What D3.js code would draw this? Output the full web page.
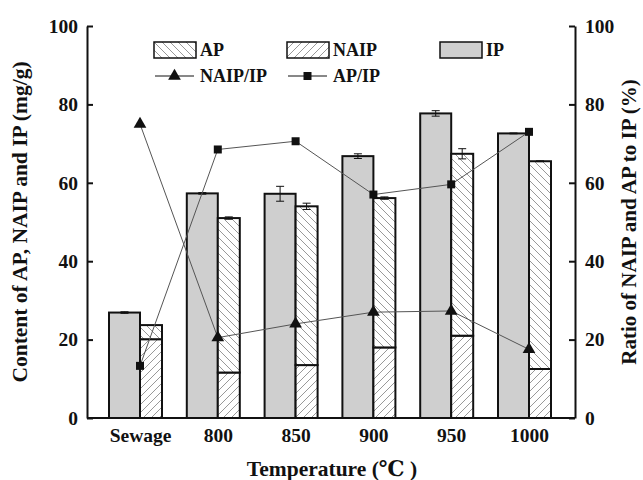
<!DOCTYPE html>
<html>
<head>
<meta charset="utf-8">
<script src="https://cdn.jsdelivr.net/npm/d3@7"></script>
<style>
  body { margin: 0; background: #fff; }
  svg text { font-family: 'Liberation Serif', 'Times New Roman', 'DejaVu Serif', serif; font-weight: bold; }
</style>
</head>
<body>
<div id="chart"></div>
<script>
const categories = ['Sewage', '800', '850', '900', '950', '1000']
const ipValues = [26.9, 57.3, 57.2, 66.8, 77.7, 72.6]
const ipErr = [0.2, 0.2, 1.9, 0.6, 0.7, 0.1]
const naipValues = [20.1, 11.6, 13.5, 18.0, 21.0, 12.5]
const totalValues = [23.7, 51.0, 54.0, 56.1, 67.4, 65.5] // NAIP + AP
const totalErr = [0, 0.3, 0.8, 0.3, 1.3, 0.1]
const naipRatio = [75.0, 20.5, 24.0, 27.0, 27.3, 17.5]
const apRatio = [13.3, 68.5, 70.6, 57.0, 59.6, 73.0]
const yTicks = [0, 20, 40, 60, 80, 100]

const width = 643, height = 480
const margin = { top: 26, right: 68, bottom: 62, left: 87 }
const innerW = width - margin.left - margin.right
const innerH = height - margin.top - margin.bottom

const svg = d3.select('#chart').append('svg')
  .attr('width', width)
  .attr('height', height)

// hatch patterns
const defs = svg.append('defs')
function hatch(id, dir) {
  const p = defs.append('pattern')
    .attr('id', id)
    .attr('patternUnits', 'userSpaceOnUse')
    .attr('width', 8).attr('height', 8)
  p.append('rect').attr('width', 8).attr('height', 8).attr('fill', '#fff')
  const d = dir > 0 ? 'M0,8 L8,0 M-2,2 L2,-2 M6,10 L10,6' : 'M0,0 L8,8 M-2,6 L2,10 M6,-2 L10,2'
  p.append('path').attr('d', d).attr('stroke', '#999').attr('stroke-width', 1)
}
hatch('hatchNaip', 1)
hatch('hatchAp', -1)

const x = d3.scalePoint()
  .domain(categories)
  .range([53, innerW - 46])

const y = d3.scaleLinear().domain([0, 100]).range([innerH, 0])
const y2 = d3.scaleLinear().domain([0, 100]).range([innerH, 0])

const ipW = 31, hW = 22

const g = svg.append('g').attr('transform', `translate(${margin.left},${margin.top})`)

// IP bars
g.selectAll('.ip').data(categories).enter().append('rect')
  .attr('x', d => x(d) - ipW)
  .attr('y', (d, i) => y(ipValues[i]))
  .attr('width', ipW)
  .attr('height', (d, i) => innerH - y(ipValues[i]))
  .attr('fill', '#cfcfcf')
  .attr('stroke', '#111')
  .attr('stroke-width', 2)

// NAIP (lower) part
g.selectAll('.naip').data(categories).enter().append('rect')
  .attr('x', d => x(d))
  .attr('y', (d, i) => y(naipValues[i]))
  .attr('width', hW)
  .attr('height', (d, i) => innerH - y(naipValues[i]))
  .attr('fill', 'url(#hatchNaip)')
  .attr('stroke', '#111')
  .attr('stroke-width', 2)

// AP (upper) part
g.selectAll('.ap').data(categories).enter().append('rect')
  .attr('x', d => x(d))
  .attr('y', (d, i) => y(totalValues[i]))
  .attr('width', hW)
  .attr('height', (d, i) => y(naipValues[i]) - y(totalValues[i]))
  .attr('fill', 'url(#hatchAp)')
  .attr('stroke', '#111')
  .attr('stroke-width', 2)

// error bars
function errBars(cx, vals, errs) {
  categories.forEach((c, i) => {
    if (!errs[i]) return
    const xc = cx(c)
    const t = y(vals[i] + errs[i]), b = y(vals[i] - errs[i])
    const eg = g.append('g').attr('stroke', '#111').attr('stroke-width', 1)
    eg.append('line').attr('x1', xc).attr('x2', xc).attr('y1', t).attr('y2', b)
    eg.append('line').attr('x1', xc - 4).attr('x2', xc + 4).attr('y1', t).attr('y2', t)
    eg.append('line').attr('x1', xc - 4).attr('x2', xc + 4).attr('y1', b).attr('y2', b)
  })
}
errBars(d => x(d) - ipW / 2, ipValues, ipErr)
errBars(d => x(d) + hW / 2, totalValues, totalErr)

// ratio lines
const line = vals => d3.line()
  .x(d => x(d))
  .y((d, i) => y2(vals[i]))(categories)

g.append('path').attr('d', line(naipRatio))
  .attr('fill', 'none').attr('stroke', '#555').attr('stroke-width', 1)
g.append('path').attr('d', line(apRatio))
  .attr('fill', 'none').attr('stroke', '#555').attr('stroke-width', 1)

const tri = d3.symbol().type(d3.symbolTriangle).size(70)
const sq = d3.symbol().type(d3.symbolSquare).size(64)

g.selectAll('.tri').data(categories).enter().append('path')
  .attr('d', tri)
  .attr('transform', (d, i) => `translate(${x(d)},${y2(naipRatio[i])})`)
  .attr('fill', '#111')
g.selectAll('.sq').data(categories).enter().append('path')
  .attr('d', sq)
  .attr('transform', (d, i) => `translate(${x(d)},${y2(apRatio[i])})`)
  .attr('fill', '#111')

// axes
const leftAxis = g.append('g')
  .call(d3.axisLeft(y).tickValues(yTicks).tickSizeInner(-6).tickSizeOuter(0).tickPadding(9))
const rightAxis = g.append('g')
  .attr('transform', `translate(${innerW},0)`)
  .call(d3.axisRight(y2).tickValues(yTicks).tickSizeInner(-6).tickSizeOuter(0).tickPadding(10))
const bottomAxis = g.append('g')
  .attr('transform', `translate(0,${innerH})`)
  .call(d3.axisBottom(x).tickSize(0).tickPadding(10))

;[leftAxis, rightAxis, bottomAxis].forEach(a => {
  a.attr('font-family', null)
  a.select('.domain').attr('stroke', '#111').attr('stroke-width', 2)
  a.selectAll('.tick line').attr('stroke', '#111').attr('stroke-width', 2)
  a.selectAll('text').attr('font-size', 19.5).attr('fill', '#111')
})
bottomAxis.select('.domain').attr('d', `M0,0H${innerW}`)

// axis titles
svg.append('text')
  .attr('transform', `translate(27,${margin.top + innerH / 2}) rotate(-90)`)
  .attr('text-anchor', 'middle')
  .attr('font-size', 21.5)
  .attr('fill', '#111')
  .text('Content of AP, NAIP and IP (mg/g)')

svg.append('text')
  .attr('transform', `translate(636,${margin.top + innerH / 2}) rotate(-90)`)
  .attr('text-anchor', 'middle')
  .attr('font-size', 21)
  .attr('fill', '#111')
  .text('Ratio of NAIP and AP to IP (%)')

svg.append('text')
  .attr('x', 332).attr('y', 476)
  .attr('text-anchor', 'middle')
  .attr('font-size', 21.5)
  .attr('fill', '#111')
  .text('Temperature (℃ )')

// legend
const lg = svg.append('g')
const swatches = [
  { x: 154, fill: 'url(#hatchAp)', label: 'AP' },
  { x: 287, fill: 'url(#hatchNaip)', label: 'NAIP' },
  { x: 440, fill: '#cfcfcf', label: 'IP' }
]
swatches.forEach(s => {
  lg.append('rect').attr('x', s.x).attr('y', 42).attr('width', 42).attr('height', 16)
    .attr('fill', s.fill).attr('stroke', '#111').attr('stroke-width', 1.5)
  lg.append('text').attr('x', s.x + 46).attr('y', 56).attr('font-size', 18).attr('fill', '#111').text(s.label)
})
const lineItems = [
  { x: 155, sym: tri, label: 'NAIP/IP' },
  { x: 288, sym: sq, label: 'AP/IP' }
]
lineItems.forEach(s => {
  lg.append('line').attr('x1', s.x).attr('x2', s.x + 39).attr('y1', 76).attr('y2', 76)
    .attr('stroke', '#111').attr('stroke-width', 1)
  lg.append('path').attr('d', s.sym).attr('transform', `translate(${s.x + 19.5},76)`).attr('fill', '#111')
  lg.append('text').attr('x', s.x + 45).attr('y', 82).attr('font-size', 18).attr('fill', '#111').text(s.label)
})
</script>
</body>
</html>
